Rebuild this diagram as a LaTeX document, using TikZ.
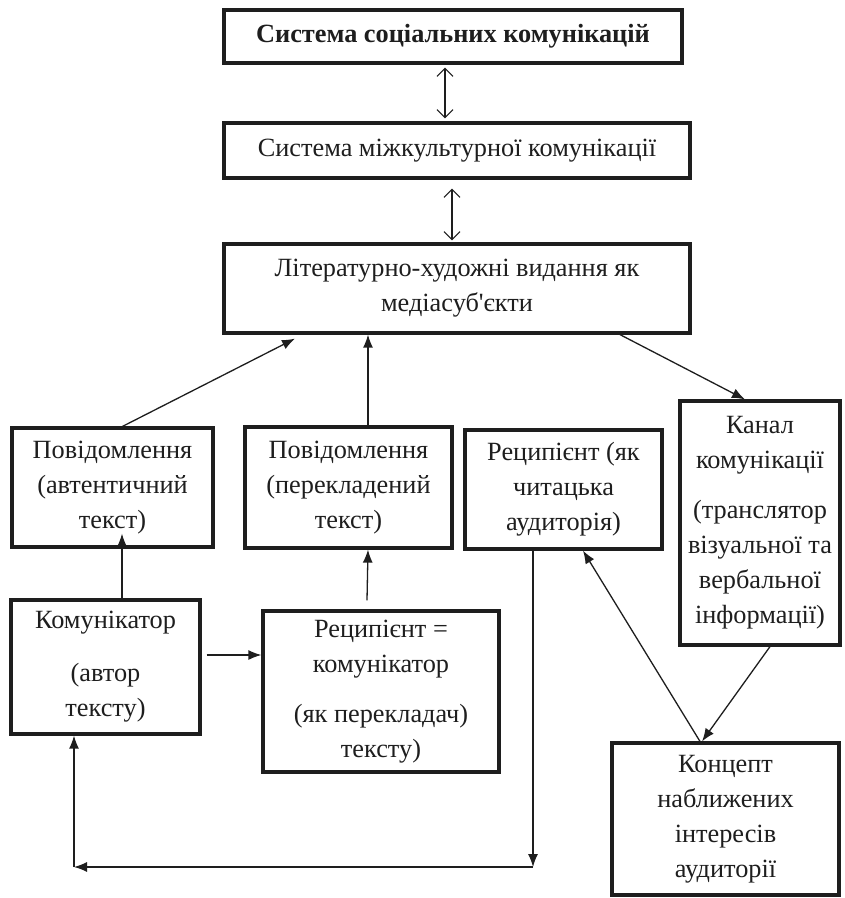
\documentclass[tikz,border=0pt]{standalone}
\usepackage{fontspec}
\setmainfont{Liberation Serif}[Ligatures=TeXOff]
\usetikzlibrary{arrows.meta,calc}
\definecolor{ink}{RGB}{30,30,30}
\begin{document}
\begin{tikzpicture}[x=1pt,y=-1pt,
  box/.style={draw=ink, text=ink, line width=3.2pt, align=center, inner sep=2pt,
    font=\fontsize{26.3}{35}\selectfont},
  conn/.style={draw=ink, line width=1.3pt, -{Latex[length=13pt,width=10pt]}},
  dbl/.style={draw=ink, line width=1.1pt,
    {Straight Barb[length=8pt,width=16pt]}-{Straight Barb[length=8pt,width=16pt]}}]
\useasboundingbox[fill=white] (0,0) rectangle (845,898);

\node[box, minimum width=458pt, minimum height=53pt] (top) at (453,36.5)
  {\bfseries Система соціальних комунікацій};
\node[box, minimum width=466pt, minimum height=55pt] (mik) at (457,150.5)
  {Система міжкультурної комунікації};
\node[box, minimum width=466pt, minimum height=89pt] (lit) at (457,288.5)
  {Літературно-художні видання як\\медіасуб'єкти};

\node[box, minimum width=201pt, minimum height=119pt] (pa) at (112.5,487.5)
  {Повідомлення\\(автентичний\\текст)};
\node[box, minimum width=207pt, minimum height=121pt] (pp) at (348.5,487.5)
  {Повідомлення\\(перекладений\\текст)};
\node[box, minimum width=197pt, minimum height=119pt] (rc) at (563.5,489.5)
  {Реципієнт (як\\читацька\\аудиторія)};
\node[box, minimum width=160pt, minimum height=244pt] (kanal) at (760,523)
  {Канал\\комунікації\\[15pt](транслятор\\візуальної та\\вербальної\\інформації)};

\node[box, minimum width=189pt, minimum height=134pt] (kom) at (105.5,667)
  {Комунікатор\\[18pt](автор\\тексту)};
\node[box, minimum width=236pt, minimum height=161pt] (rk) at (381,691.5)
  {Реципієнт =\\комунікатор\\[15pt](як перекладач)\\тексту)};
\node[box, minimum width=227pt, minimum height=152pt] (konc) at (725.5,819)
  {Концепт\\наближених\\інтересів\\аудиторії};

\coordinate (c1) at (533,867);
\coordinate (c2) at (74,867);

% double arrows
\draw[dbl] ([xshift=-8pt,yshift=-3pt]top.south) -- ([xshift=-12pt,yshift=3pt]mik.north);
\draw[dbl] ([xshift=-5pt,yshift=-9pt]mik.south) -- ([xshift=-5pt,yshift=2pt]lit.north);

% connectors
\draw[conn] ([xshift=10pt]pa.north) -- ([xshift=-162pt,yshift=-4pt]lit.south);
\draw[conn] ([xshift=19.5pt]pp.north) -- ([xshift=-89pt]lit.south);
\draw[conn] ([xshift=163pt]lit.south) -- ([xshift=-15pt]kanal.north);
\draw[conn] ([xshift=16.5pt]kom.north) -- ([xshift=9.5pt,yshift=15pt]pa.south);
\draw[conn] ([xshift=-14pt,yshift=9pt]rk.north) -- ([xshift=19.5pt]pp.south);
\draw[conn] ([xshift=5pt,yshift=12pt]kom.east) -- ([yshift=36.5pt]rk.west);
\draw[conn] ([xshift=-30.5pt]rc.south) -- (c1);
\draw[conn] (c1) -- (c2);
\draw[conn] (c2) -- ([xshift=-31.5pt]kom.south);
\draw[conn] ([xshift=10pt]kanal.south) -- ([xshift=-23.5pt]konc.north);
\draw[conn] ([xshift=-25.5pt]konc.north) -- ([xshift=19.5pt]rc.south);
\end{tikzpicture}
\end{document}
